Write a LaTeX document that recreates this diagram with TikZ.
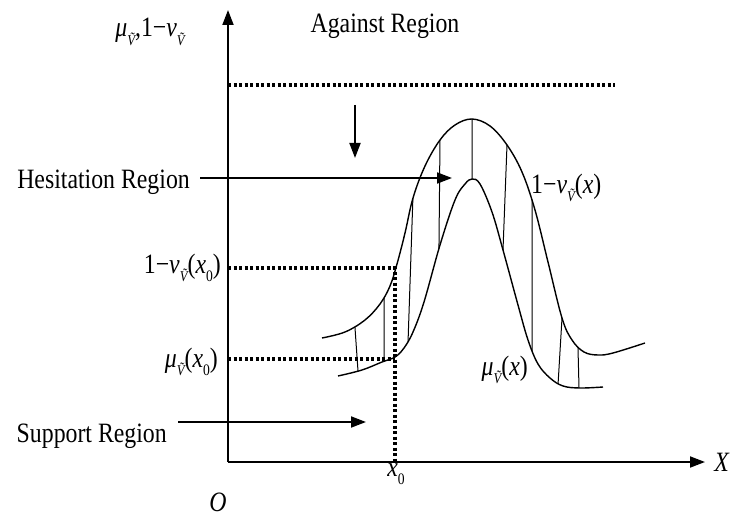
\documentclass[tikz,border=0pt]{standalone}
\usepackage{fontspec}
\setmainfont{Liberation Serif}[FakeStretch=0.85]
\usetikzlibrary{arrows.meta,intersections,calc}
\newcommand{\Vs}{\raisebox{-0.3em}{\fontsize{15}{15}\selectfont\itshape\~{V}}}
\newcommand{\zs}{\raisebox{-0.28em}{\fontsize{16}{16}\selectfont 0}}
\newcommand{\hatchln}[3]{%
  \path[name path=hh#1] ($(#2)!-0.3!(#3)$) -- ($(#2)!1.3!(#3)$);
  \path[name intersections={of=hh#1 and up, by={p#1}}];
  \path[name intersections={of=hh#1 and lo, by={q#1}}];
  \draw[hatch] (p#1) -- (q#1);}
\begin{document}
\begin{tikzpicture}[x=1pt,y=-1pt,
  axis/.style={line width=1.8pt,-{Triangle[length=15pt,width=11pt]}},
  arr/.style={line width=1.8pt,-{Triangle[length=15pt,width=11pt]}},
  dots/.style={line width=3.2pt,dash pattern=on 3.2pt off 2.3pt},
  curve/.style={line width=1.4pt},
  hatch/.style={line width=1pt},
  lbl/.style={font=\fontsize{28}{30}\selectfont,inner sep=0pt},
  mlbl/.style={font=\fontsize{28}{30}\selectfont,inner sep=0pt}]
\useasboundingbox (0,0) rectangle (736,516);
% axes
\coordinate (O) at (228,462);
\coordinate (Ytop) at (228,10);
\coordinate (Xend) at (705,462);
\draw[axis] (O) -- (Ytop);
\draw[axis] (O) -- (Xend);
% dotted lines
\coordinate (t1) at (228,85);
\coordinate (t2) at (615,85);
\coordinate (a1) at (228,268);
\coordinate (a2) at (395,268);
\coordinate (a3) at (395,462);
\coordinate (b1) at (228,359);
\coordinate (b2) at (395,359);
\draw[dots] (t1) -- (t2);
\draw[dots] (a1) -- (a2) -- (a3);
\draw[dots] (b1) -- (b2);
% curves
\draw[curve,name path=up] plot[smooth,tension=0.6] coordinates {(322,338) (345,332) (365,320) (380,304) (390,286) (397,264) (405,233) (413,198) (425,166) (440,140) (455,125) (472,119) (490,126) (507,145) (522,172) (535,210) (548,262) (562,318) (572,340) (584,352) (598,355) (613,353) (645,343)};
\draw[curve,name path=lo] plot[smooth,tension=0.6] coordinates {(338,376) (362,370) (382,362) (395,357) (404,348) (413,332) (424,302) (440,245) (455,200) (465,184) (472,179) (480,184) (492,212) (503,250) (518,305) (528,340) (538,364) (550,378) (563,386) (580,388) (603,387)};
% hatches
\hatchln{a}{355,328}{358,371}
\hatchln{b}{384,298}{384,361}
\hatchln{c}{413,195}{408,343}
\hatchln{d}{440,139}{439,243}
\hatchln{e}{472,119}{472,179}
\hatchln{f}{507,145}{503,250}
\hatchln{g}{532,200}{532,354}
\hatchln{h}{562,318}{558,385}
\hatchln{i}{578,348}{579,388}
% region labels and arrows
\node[lbl,anchor=base] (against) at (385,33) {Against Region};
\node[lbl,anchor=base east] (hes) at (190,188) {Hesitation Region};
\node[lbl,anchor=base east] (sup) at (167,442) {Support Region};
\coordinate (agS) at (355,105);
\coordinate (agE) at (355,158);
\coordinate (hesS) at (200,178);
\coordinate (hesE) at (452,178);
\coordinate (supS) at (178,422);
\coordinate (supE) at (366,422);
\draw[arr] (agS) -- (agE);
\draw[arr] (hesS) -- (hesE);
\draw[arr] (supS) -- (supE);
% math labels
\node[mlbl] (ylab) at (150,32) {\textit{μ}\Vs,1−\textit{ν}\Vs};
\node[mlbl,anchor=west] (nux) at (531,188) {1−\textit{ν}\Vs(\textit{x})};
\node[mlbl,anchor=east] (mux) at (528,370) {\textit{μ}\Vs(\textit{x})};
\node[mlbl,anchor=east] (nux0) at (221,268) {1−\textit{ν}\Vs(\textit{x}\zs)};
\node[mlbl,anchor=east] (mux0) at (218,362) {\textit{μ}\Vs(\textit{x}\zs)};
\node[mlbl] (xl) at (722,462) {\textit{X}};
\node[mlbl,anchor=base] (ol) at (218,511) {\textit{O}};
\node[mlbl] (x0l) at (396,474) {\textit{x}\zs};
\end{tikzpicture}
\end{document}
